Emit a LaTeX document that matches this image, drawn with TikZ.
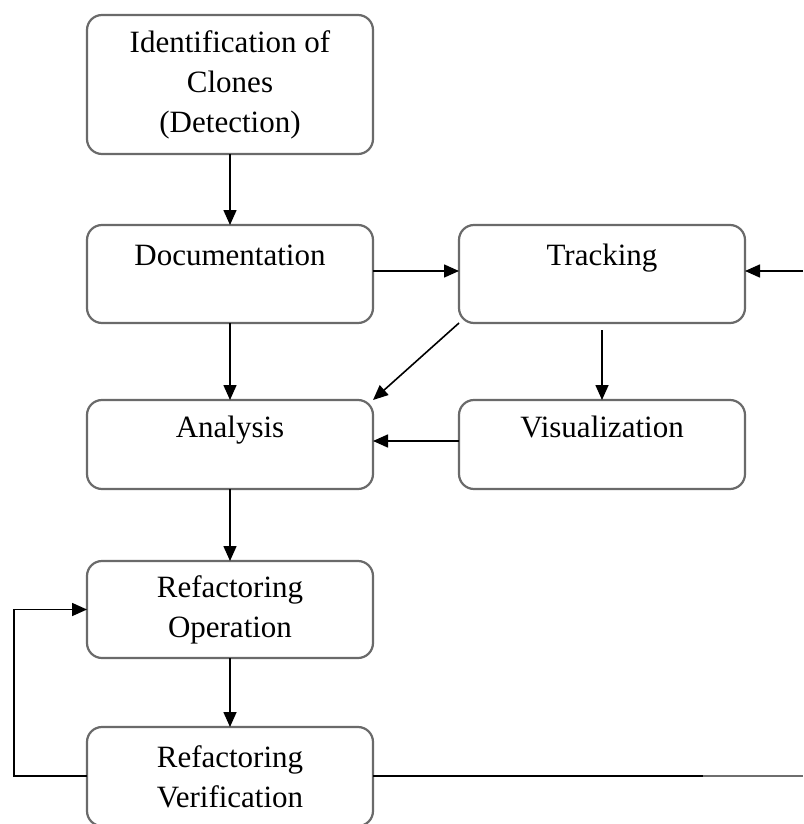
\documentclass[tikz,border=0pt]{standalone}
\usepackage{fontspec}
\setmainfont{Liberation Serif}
\usetikzlibrary{arrows.meta}
\definecolor{boxgray}{HTML}{6A6A6A}
\definecolor{fadegray}{HTML}{6E6E6E}
\begin{document}
\begin{tikzpicture}[x=1pt,y=-1pt,
  box/.style={draw=boxgray, line width=2.2pt, rounded corners=15pt,
    minimum width=286pt, inner sep=0pt, outer sep=0pt, anchor=north west,
    align=center, font=\fontsize{31}{40}\selectfont},
  onetext/.style={text height=21pt, text depth=38pt},
  link/.style={draw=black, line width=1.6pt, -{Triangle[length=15pt,width=13pt]}},
  plain/.style={draw=black, line width=1.6pt}
]
\useasboundingbox (0,0) rectangle (803,824);

% process boxes
\node[box, minimum height=139pt] (idc) at (87,15) {Identification of\\Clones\\(Detection)};
\node[box, onetext, minimum height=98pt] (doc) at (87,225) {Documentation};
\node[box, onetext, minimum height=98pt] (trk) at (459,225) {Tracking};
\node[box, onetext, minimum height=89pt, text depth=36pt] (ana) at (87,400) {Analysis};
\node[box, onetext, minimum height=89pt, text depth=36pt] (vis) at (459,400) {Visualization};
\node[box, minimum height=97pt] (rop) at (87,561) {Refactoring\\Operation};
\node[box, minimum height=99pt] (rve) at (87,727) {Refactoring\\Verification};

% free ends and levels of the outer connectors
\coordinate (feed) at (803,271);
\coordinate (side) at (0,441);
\coordinate (loop) at (14,0);
\coordinate (low) at (0,776);
\coordinate (outa) at (703,0);
\coordinate (outb) at (803,0);

% connectors
\draw[link] (idc) -- (doc);
\draw[link] (doc.east |- feed) -- (trk.west |- feed);
\draw[link] (feed) -- (trk.east |- feed);
\draw[link] (doc) -- (ana);
\draw[link] (trk.south west) -- (ana.north east);
\draw[link, shorten <=7pt] (trk) -- (vis);
\draw[link] (vis.west |- side) -- (ana.east |- side);
\draw[link] (ana) -- (rop);
\draw[link] (rop) -- (rve);
\draw[link] (rve.west |- low) -- (loop |- low) |- (rop.west);
\draw[plain] (rve.east |- low) -- (outa |- low);
\draw[draw=fadegray, line width=2pt] (outa |- low) -- (outb |- low);
\end{tikzpicture}
\end{document}
